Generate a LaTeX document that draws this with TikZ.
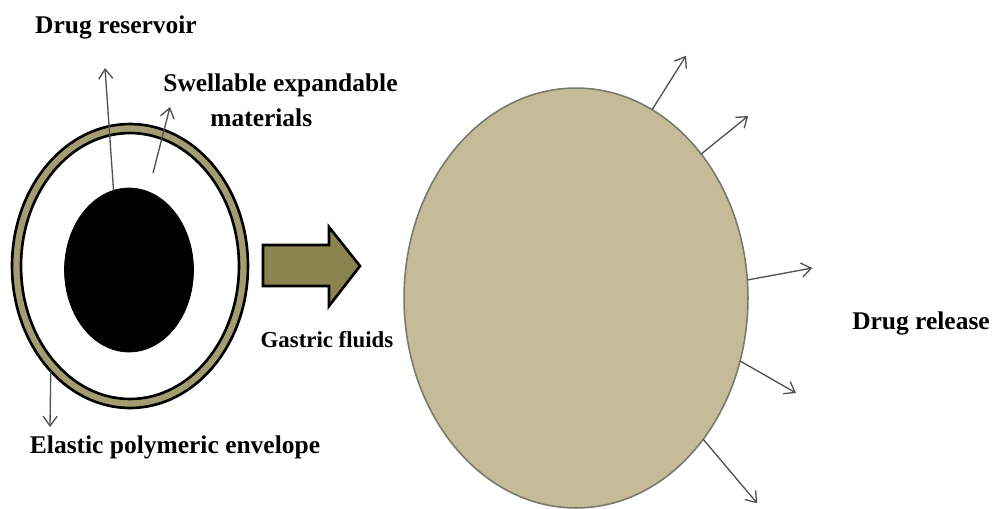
\documentclass[tikz,border=0pt]{standalone}
\usepackage{fontspec}
\setmainfont{Liberation Serif}
\usetikzlibrary{shapes.geometric, arrows.meta, positioning}

\definecolor{ringolive}{HTML}{A39D72}
\definecolor{arrowolive}{HTML}{8A8350}
\definecolor{swollenfill}{HTML}{C5BB98}
\definecolor{swollenline}{HTML}{7A7A6C}
\definecolor{pointergray}{HTML}{505050}

\begin{document}
\begin{tikzpicture}[x=0.02cm, y=-0.02cm,
    blob/.style={draw, ellipse, inner sep=0pt, outer sep=0pt},
    caption/.style={font=\fontsize{14.5}{19.8}\selectfont\bfseries, inner sep=0pt},
    pointer/.style={draw=pointergray, line width=0.75pt, -{Straight Barb[length=5.5pt, width=8pt]}}]
    \useasboundingbox (0,0) rectangle (994,508);

    % tablet before swelling
    \node[blob, fill=ringolive, line width=1.5pt, minimum width=4.72cm, minimum height=5.68cm] (envelope) at (130,266) {};
    \node[blob, fill=white, line width=1.5pt, minimum width=4.36cm, minimum height=5.32cm] (gap) at (130,266) {};
    \node[blob, fill=black, minimum width=2.58cm, minimum height=3.28cm] (core) at (129,270) {};

    % swollen tablet
    \node[blob, draw=swollenline, fill=swollenfill, line width=0.9pt, minimum width=6.88cm, minimum height=8.4cm] (swollen) at (576,298) {};

    % block arrow
    \draw[fill=arrowolive, line width=1.5pt, line join=miter]
        (263,245) -- (329,245) -- (329,227) -- (360,266) -- (329,306) -- (329,286) -- (263,286) -- cycle;

    \node[caption] (reservoir) at (116,27) {Drug reservoir};
    \node[caption, align=left, anchor=west] (swell) at (163,100) {Swellable expandable\\\hspace*{0.94cm}materials};
    \node[caption] (elastic) at (175,447) {Elastic polymeric envelope};
    \node[caption, font=\fontsize{13}{15}\selectfont\bfseries] (gastric) at (327,340) {Gastric fluids};
    \node[caption] (release) at (921,323) {Drug release};

    \coordinate (reservoir tip) at (105,68);
    \coordinate (swell tail) at (153,173);
    \coordinate (swell tip) at (170,107);
    \coordinate (elastic tip) at (50,427);
    \draw[pointer] (core.101) -- (reservoir tip);
    \draw[pointer] (swell tail) -- (swell tip);
    \draw[pointer] (envelope.233) -- (elastic tip);

    \foreach \ang/\dx/\dy [count=\i] in {68.7/34/-54, 49.7/47/-38, 6.6/65/-12, -21.9/56/32, -48.8/54/64} {
        \path (swollen.\ang) ++(\dx,\dy) coordinate (out\i);
        \draw[pointer] (swollen.\ang) -- (out\i);
    }
\end{tikzpicture}
\end{document}
